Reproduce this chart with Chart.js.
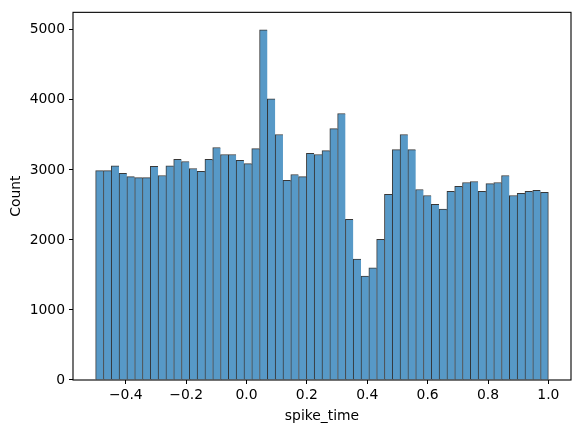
<!DOCTYPE html>
<html>
<head>
<meta charset="utf-8">
<script src="https://cdn.jsdelivr.net/npm/chart.js@4.4.1/dist/chart.umd.min.js"></script>
<style>
  html, body { margin: 0; padding: 0; background: #fff; }
  #wrap { width: 580px; height: 433px; }
</style>
</head>
<body>
<div id="wrap"><canvas id="c" width="580" height="433"></canvas></div>
<script>
// ---- data ----
const binStart = -0.5;
const binEnd = 1.0;
const counts = [
  2990, 2990, 3060, 2950, 2905, 2890, 2890, 3050, 2920, 3060,
  3150, 3120, 3020, 2980, 3150, 3320, 3220, 3220, 3135, 3090,
  3305, 5000, 4015, 3505, 2850, 2935, 2905, 3235, 3220, 3275,
  3590, 3805, 2295, 1725, 1485, 1600, 2010, 2650, 3290, 3505,
  3290, 2720, 2635, 2510, 2440, 2695, 2765, 2820, 2835, 2695,
  2805, 2820, 2920, 2635, 2665, 2695, 2710, 2680
];
const xTicks = [-0.4, -0.2, 0.0, 0.2, 0.4, 0.6, 0.8, 1.0];
const yTicks = [0, 1000, 2000, 3000, 4000, 5000];
const xLabel = 'spike_time';
const yLabel = 'Count';

// bin centres (category positions of the histogram)
const nBins = counts.length;
const binW = (binEnd - binStart) / nBins;
const points = counts.map((c, i) => ({ x: binStart + binW * (i + 0.5), y: c }));

const FONT = { family: "'DejaVu Sans', sans-serif", size: 13.9 };

const framePlugin = {
  id: 'frame',
  afterDraw(chart) {
    const { ctx, chartArea: a } = chart;
    ctx.save();
    ctx.strokeStyle = '#000';
    ctx.lineWidth = 1.1;
    ctx.strokeRect(a.left, a.top, a.right - a.left, a.bottom - a.top);
    ctx.restore();
  }
};

new Chart(document.getElementById('c'), {
  type: 'bar',
  data: {
    datasets: [{
      data: points,
      backgroundColor: 'rgb(87,153,199)',
      borderColor: 'rgba(0,0,0,0.78)',
      borderWidth: (ctx) => ctx.dataIndex === nBins - 1
        ? { top: 1, left: 1, right: 1, bottom: 0 }
        : { top: 1, left: 1, right: 0, bottom: 0 },
      borderSkipped: false,
      barPercentage: 1.0,
      categoryPercentage: 1.0
    }]
  },
  options: {
    responsive: false,
    animation: false,
    devicePixelRatio: 1,
    layout: { padding: { left: 0, right: 9, top: 11, bottom: 0 } },
    plugins: { legend: { display: false }, tooltip: { enabled: false } },
    scales: {
      x: {
        type: 'linear',
        min: -0.575,
        max: 1.075,
        offset: false,
        grid: { display: true, drawOnChartArea: false, drawTicks: true, tickLength: 4, color: '#000', lineWidth: 1, offset: false },
        border: { display: false },
        afterBuildTicks: (s) => { s.ticks = xTicks.map(v => ({ value: v })); },
        afterFit: (s) => { s.height = 53; },
        ticks: {
          color: '#000', font: FONT, padding: 3, maxRotation: 0, autoSkip: false,
          callback: (v) => Number(v).toFixed(1).replace('-', '\u2212')
        },
        title: { display: true, text: xLabel, color: '#000', font: FONT, padding: { top: 0, bottom: 8 } }
      },
      y: {
        type: 'linear',
        min: 0,
        max: 5250,
        grid: { display: true, drawOnChartArea: false, drawTicks: true, tickLength: 4, color: '#000', lineWidth: 1 },
        border: { display: false },
        afterBuildTicks: (s) => { s.ticks = yTicks.map(v => ({ value: v })); },
        afterFit: (s) => { s.width = 73; },
        ticks: { color: '#000', font: FONT, padding: 4, autoSkip: false, callback: (v) => String(v) },
        title: { display: true, text: yLabel, color: '#000', font: FONT, padding: { top: 8, bottom: 0 } }
      }
    }
  },
  plugins: [framePlugin]
});
</script>
</body>
</html>
